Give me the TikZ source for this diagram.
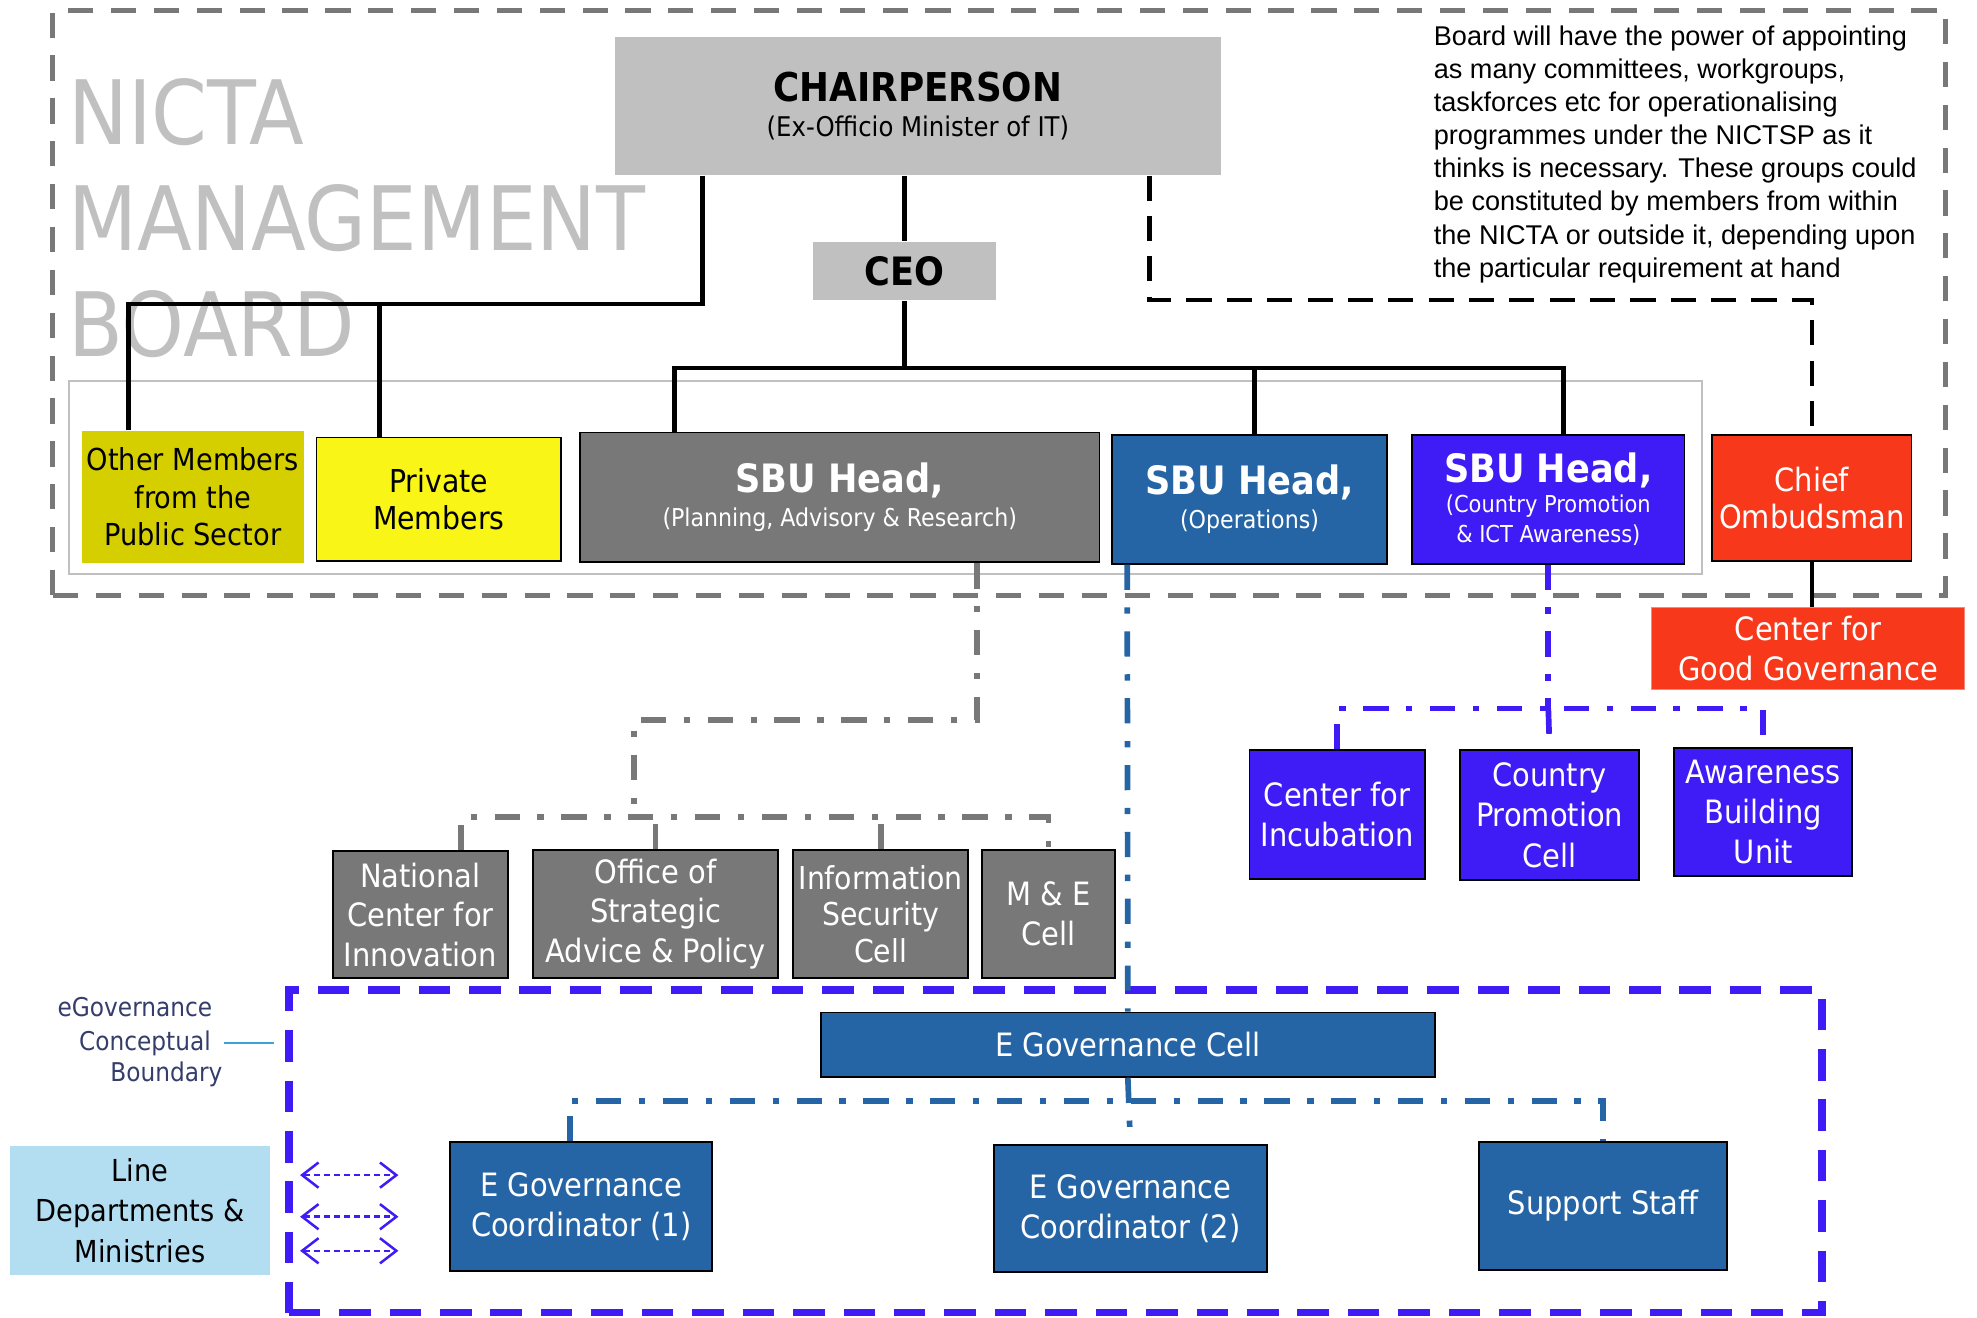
\documentclass[tikz,border=0pt]{standalone}
\usepackage{fontspec}
\setmainfont{DejaVu Sans Condensed}
\newfontfamily\notefont{Liberation Sans}
\usepackage{tikz}
\usetikzlibrary{positioning,arrows.meta}

\definecolor{boardgray}{HTML}{787878}
\definecolor{chairgray}{HTML}{C0C0C0}
\definecolor{publicyellow}{HTML}{D6CF00}
\definecolor{privyellow}{HTML}{F9F516}
\definecolor{opsblue}{HTML}{2565A5}
\definecolor{ctyviolet}{HTML}{3F1CF5}
\definecolor{ombred}{HTML}{F8381A}
\definecolor{linecyan}{HTML}{B3DDF0}
\definecolor{labelnavy}{HTML}{343D6B}
\definecolor{tickblue}{HTML}{3AA4D8}

\newcommand{\fsize}[2]{\fontsize{#1}{#2}\selectfont}

\tikzset{
	unitbox/.style = {shape = rectangle, draw = black, line width = 1.5pt, inner sep = 0pt, align = center, text = white},
	headlink/.style = {line width = 3.5pt, draw = black},
	planlink/.style = {line width = 4.5pt, draw = boardgray, dash pattern = on 20pt off 14pt on 5pt off 14pt},
	opslink/.style = {line width = 4.5pt, draw = opsblue, dash pattern = on 20pt off 14pt on 5pt off 14pt},
	ctylink/.style = {line width = 4.5pt, draw = ctyviolet, dash pattern = on 20pt off 14pt on 5pt off 14pt},
}

\begin{document}
\begin{tikzpicture}
[
	x	= 1pt,	% one unit per pixel of the layout
	y	= -1pt,	% y grows downwards
]
\useasboundingbox (0,0) rectangle (1568,1045);

{
	% frames declaration
	\node (nTitle) [anchor = north west, inner sep = 0pt, align = left, text = chairgray, font = \fsize{70.5}{84}] at (54,62) {NICTA\\MANAGEMENT\\BOARD};
	\node (nBoardFrame) [draw = boardgray, line width = 4pt, dash pattern = on 20pt off 14pt, inner sep = 0pt, minimum width = 1501, minimum height = 464] at (792.5,240) {};
	\node (nRowFrame) [draw = chairgray, line width = 1.5pt, inner sep = 0pt, minimum width = 1295, minimum height = 153] at (702.5,378.5) {};
	\node (nEgovFrame) [draw = ctyviolet, line width = 6pt, dash pattern = on 25pt off 15pt, inner sep = 0pt, minimum width = 1216, minimum height = 256] at (837,913) {};

	\node (nNote) [anchor = north west, inner sep = 0pt, align = left, font = \notefont\fsize{21.5}{26.3}] at (1137,20) {Board will have the power of appointing\\as many committees, workgroups,\\taskforces etc for operationalising\\programmes under the NICTSP as it\\thinks is necessary. These groups could\\be constituted by members from within\\the NICTA or outside it, depending upon\\the particular requirement at hand};

	% nodes declaration
	\node (nChair) [unitbox, draw = none, fill = chairgray, text = black, minimum width = 480, minimum height = 109, font = \fsize{21.5}{28}] at (728,84) {{\fsize{31.5}{34}\bfseries CHAIRPERSON}\\(Ex-Officio Minister of IT)};
	\node (nCeo) [unitbox, draw = none, fill = chairgray, text = black, minimum width = 145, minimum height = 46, font = \fsize{31}{34}\bfseries] at (717.5,215) {CEO};

	\node (nPublic) [unitbox, draw = none, fill = publicyellow, text = black, minimum width = 176, minimum height = 105, font = \fsize{24}{30}] at (153,394) {Other Members\\from the\\Public Sector};
	\node (nPrivate) [unitbox, fill = privyellow, text = black, minimum width = 194, minimum height = 98, font = \fsize{25}{30}] at (348,396) {Private\\Members};
	\node (nSbuPlan) [unitbox, fill = boardgray, minimum width = 412, minimum height = 103, font = \fsize{19.5}{27}] at (666,394.5) {{\fsize{31}{34}\bfseries SBU Head,}\\(Planning, Advisory \& Research)};
	\node (nSbuOps) [unitbox, fill = opsblue, minimum width = 218, minimum height = 102, font = \fsize{19.5}{27}] at (991,396) {{\fsize{31}{34}\bfseries SBU Head,}\\(Operations)};
	\node (nSbuCty) [unitbox, fill = ctyviolet, minimum width = 216, minimum height = 102, font = \fsize{18.5}{23.5}] at (1228,396) {{\fsize{31}{34}\bfseries SBU Head,}\\(Country Promotion\\\& ICT Awareness)};
	\node (nOmbud) [unitbox, fill = ombred, minimum width = 158, minimum height = 100, font = \fsize{25.5}{30}] at (1437,395) {Chief\\Ombudsman};
	\node (nGoodGov) [unitbox, draw = ombred!60, line width = 1pt, fill = ombred, minimum width = 248, minimum height = 65, font = \fsize{25.5}{32}] at (1434,514.5) {Center for\\Good Governance};

	\node (nInnov) [unitbox, fill = boardgray, minimum width = 139, minimum height = 101, font = \fsize{25.5}{31.5}] at (333.5,725.5) {National\\Center for\\Innovation};
	\node (nStrat) [unitbox, fill = boardgray, minimum width = 194, minimum height = 102, font = \fsize{25.5}{31.5}] at (520,725) {Office of\\Strategic\\Advice \& Policy};
	\node (nSecur) [unitbox, fill = boardgray, minimum width = 139, minimum height = 102, font = \fsize{25}{29}] at (698.5,725) {Information\\Security\\Cell};
	\node (nMande) [unitbox, fill = boardgray, minimum width = 105, minimum height = 102, font = \fsize{25.5}{31.5}] at (831.5,725) {M \& E\\Cell};

	\node (nIncub) [unitbox, fill = ctyviolet, minimum width = 139, minimum height = 102, font = \fsize{25.5}{32}] at (1060.5,646) {Center for\\Incubation};
	\node (nPromo) [unitbox, fill = ctyviolet, minimum width = 142, minimum height = 103, font = \fsize{25.5}{32}] at (1229,646.5) {Country\\Promotion\\Cell};
	\node (nAware) [unitbox, fill = ctyviolet, minimum width = 141, minimum height = 102, font = \fsize{25.5}{32}] at (1398.5,644) {Awareness\\Building\\Unit};

	\node (nEgovCell) [unitbox, fill = opsblue, minimum width = 487, minimum height = 51, font = \fsize{25.5}{32}] at (894.5,828.5) {E Governance Cell};
	\node (nCoordOne) [unitbox, fill = opsblue, minimum width = 208, minimum height = 102, font = \fsize{25.5}{32}] at (461,957) {E Governance\\Coordinator (1)};
	\node (nCoordTwo) [unitbox, fill = opsblue, minimum width = 217, minimum height = 101, font = \fsize{25.5}{32}] at (896.5,958.5) {E Governance\\Coordinator (2)};
	\node (nStaff) [unitbox, fill = opsblue, minimum width = 197, minimum height = 101, font = \fsize{25.5}{32}] at (1271.5,956.5) {Support Staff};

	\node (nLineDep) [unitbox, draw = none, fill = linecyan, text = black, minimum width = 206, minimum height = 102, font = \fsize{24}{32}] at (111,960) {Line\\Departments \&\\Ministries};

	\node (nBoundA) [anchor = base, inner sep = 0pt, text = labelnavy, font = \fsize{20.5}{26}] at (107,806) {eGovernance};
	\node (nBoundB) [anchor = base, inner sep = 0pt, text = labelnavy, font = \fsize{20.5}{26}] at (115,833) {Conceptual};
	\node (nBoundC) [anchor = base, inner sep = 0pt, text = labelnavy, font = \fsize{20.5}{26}] at (132,858) {Boundary};

	% joints declaration
	\coordinate (jBoard) at (102,241);
	\draw [headlink] (nCeo.south) -- ++(0,53) coordinate (jCeo);
	\coordinate (jOmbud) at (1437,238);
	\coordinate (jPlanA) at (503,571);
	\coordinate (jPlanB) at (503,648);
	\coordinate (jCty) at (1228,562);
	\coordinate (jEgov) at (898,873);

	% edges declaration
	\draw [headlink] ([xshift=70pt]nChair.south west) |- (jBoard) -- (jBoard |- nPublic.north);
	\draw [headlink] ([xshift=-47pt]nPrivate.north) -- ([xshift=-47pt]nPrivate.north |- jBoard);
	\draw [headlink] (nChair.south -| nCeo.north) -- (nCeo.north);
	\draw [headlink] ([xshift=-131pt]nSbuPlan.north) |- (jCeo) -| ([xshift=12pt]nSbuCty.north);
	\draw [headlink] ([xshift=4pt]nSbuOps.north) -- ([xshift=4pt]nSbuOps.north |- jCeo);
	\draw [headlink, dash pattern = on 20pt off 12pt] ([xshift=-57pt]nChair.south east) |- (jOmbud) -- (nOmbud.north);
	\draw [headlink] (nOmbud.south) -- (nOmbud.south |- nGoodGov.north);

	\draw [planlink] ([xshift=109pt]nSbuPlan.south) |- (jPlanA) -- (jPlanB);
	\draw [planlink] ([xshift=32pt]nInnov.north) |- (jPlanB) -| (nMande.north);
	\draw [planlink] (nStrat.north) -- (nStrat.north |- jPlanB);
	\draw [planlink] (nSecur.north) -- (nSecur.north |- jPlanB);

	\draw [ctylink] (nSbuCty.south) -- (jCty);
	\draw [ctylink] (nIncub.north) |- (jCty) -| (nAware.north);
	\draw [ctylink] (jCty) -- (nPromo.north);

	\draw [opslink] ([xshift=-97pt]nSbuOps.south) -- (nEgovCell.north);
	\draw [opslink] (nEgovCell.south) -- (nCoordTwo.north);
	\draw [opslink] ([xshift=-9pt]nCoordOne.north) |- (jEgov) -| (nStaff.north);

	\draw [line width = 2pt, draw = tickblue] ([xshift=10pt]nBoundB.east) -- ([xshift=-9pt]nBoundB.east -| nEgovFrame.west);

	\foreach \y [count=\i] in {932,965,992}
	{
		\coordinate (lnkL\i) at (238,\y);
		\coordinate (lnkR\i) at (316,\y);
		\draw [ctyviolet, line width = 2pt, dash pattern = on 5pt off 3pt, {Straight Barb[length=13pt, width=20pt]}-{Straight Barb[length=13pt, width=20pt]}] (lnkL\i) -- (lnkR\i);
	}
}

\end{tikzpicture}
\end{document}
